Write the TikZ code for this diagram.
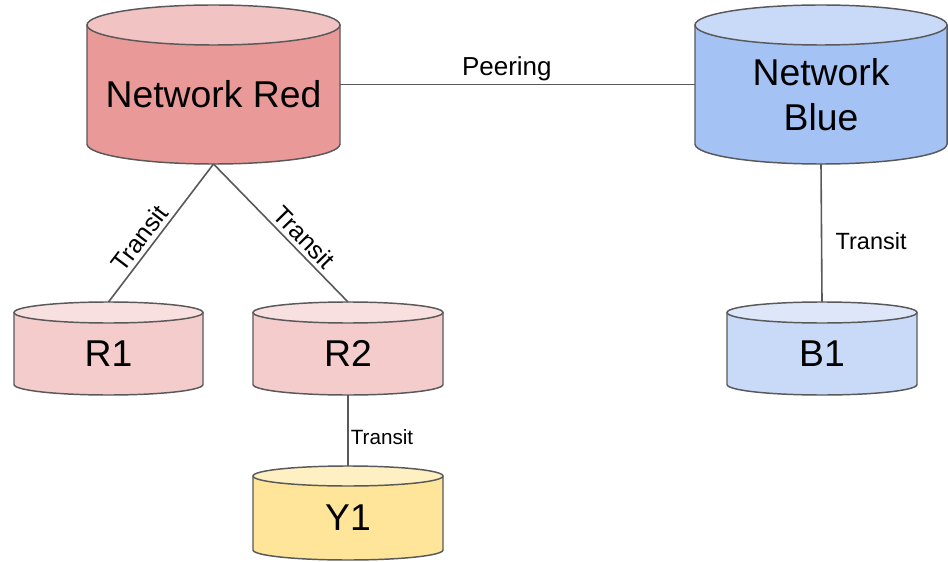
\documentclass[tikz,border=0pt]{standalone}
\usepackage{fontspec}
\setmainfont{Liberation Sans}

\definecolor{edgegray}{HTML}{595959}
\definecolor{redbody}{HTML}{EA9999}
\definecolor{redlid}{HTML}{F2C3C3}
\definecolor{pinkbody}{HTML}{F4CCCC}
\definecolor{pinklid}{HTML}{F8E0E0}
\definecolor{bluebody}{HTML}{A4C2F4}
\definecolor{bluelid}{HTML}{C9DAF8}
\definecolor{paleblue}{HTML}{C9DAF8}
\definecolor{palebluelid}{HTML}{DEE7F9}
\definecolor{yellowbody}{HTML}{FFE599}
\definecolor{yellowlid}{HTML}{FFF0C4}

\tikzset{
  canline/.style={draw=edgegray, line width=1.1pt},
  canframe/.style={draw=none, fill=none, rectangle, inner sep=0pt, outer sep=0pt},
  cantext/.style={font=\fontsize{28}{33.75}\selectfont, align=center, inner sep=0pt},
  link/.style={draw=edgegray, line width=1.2pt},
  linklabel/.style={font=\fontsize{17.6}{21}\selectfont, inner sep=3pt},
}

% A can (cylinder): #1 name, #2 left, #3 right, #4 top, #5 bottom,
% #6 lid half-height, #7 body colour, #8 lid colour, #9 text
\newcommand\drawcan[9]{%
  \pgfmathsetmacro\canCx{(#2+#3)/2}%
  \pgfmathsetmacro\canRx{(#3-#2)/2}%
  \pgfmathsetmacro\canLidY{#4-#6}%
  \pgfmathsetmacro\canBaseY{#5+#6}%
  \pgfmathsetmacro\canMidY{(#4+#5)/2}%
  \pgfmathsetmacro\canTextY{(#4-#6+#5)/2}%
  \pgfmathsetmacro\canW{#3-#2}%
  \pgfmathsetmacro\canH{#4-#5}%
  \fill[#7] (#2,\canLidY) -- (#2,\canBaseY)
    arc[start angle=180, end angle=360, x radius=\canRx, y radius=#6]
    -- (#3,\canLidY) -- cycle;
  \draw[canline] (#2,\canLidY) -- (#2,\canBaseY)
    arc[start angle=180, end angle=360, x radius=\canRx, y radius=#6]
    -- (#3,\canLidY);
  \filldraw[canline, fill=#8] (\canCx,\canLidY) ellipse[x radius=\canRx, y radius=#6];
  \node[canframe, minimum width=\canW*0.75pt, minimum height=\canH*0.75pt]
    (#1) at (\canCx,\canMidY) {};
  \node[cantext] (#1-text) at (\canCx,\canTextY) {#9};
}

\begin{document}
\begin{tikzpicture}[x=0.75pt, y=0.75pt]
  \fill[white] (0,0) rectangle (948,561);
  \useasboundingbox (0,0) rectangle (948,561);

  % networks
  \drawcan{red}{87}{340}{556}{397}{20}{redbody}{redlid}{Network Red}
  \drawcan{blue}{695}{947}{556}{397}{20}{bluebody}{bluelid}{Network\\Blue}
  \drawcan{r1}{14}{203}{259}{166}{10.5}{pinkbody}{pinklid}{R1}
  \drawcan{r2}{253}{443}{259}{166}{10.5}{pinkbody}{pinklid}{R2}
  \drawcan{b1}{727}{917}{259}{166}{10.5}{paleblue}{palebluelid}{B1}
  \drawcan{y1}{253}{443}{95}{1}{10}{yellowbody}{yellowlid}{Y1}

  % links
  \draw[link] (red.east) -- node[pos=0.47, anchor=base, yshift=6.4pt, inner sep=0pt,
    font=\fontsize{19.5}{23}\selectfont] {Peering} (blue.west);
  \draw[link] (r1.north) -- node[linklabel, sloped, above, pos=0.4,
    font=\fontsize{18.8}{22}\selectfont] {Transit} (red.south);
  \draw[link] (red.south) -- node[linklabel, sloped, above, pos=0.6,
    font=\fontsize{18.8}{22}\selectfont] {Transit} (r2.north);
  \draw[link] (blue.south) -- node[linklabel, right, pos=0.56, xshift=7pt] {Transit} (b1.north);
  \draw[link] (r2.south) -- node[linklabel, right, inner sep=1.5pt, pos=0.6,
    font=\fontsize{15.5}{18}\selectfont] {Transit} (y1.north);
\end{tikzpicture}
\end{document}
